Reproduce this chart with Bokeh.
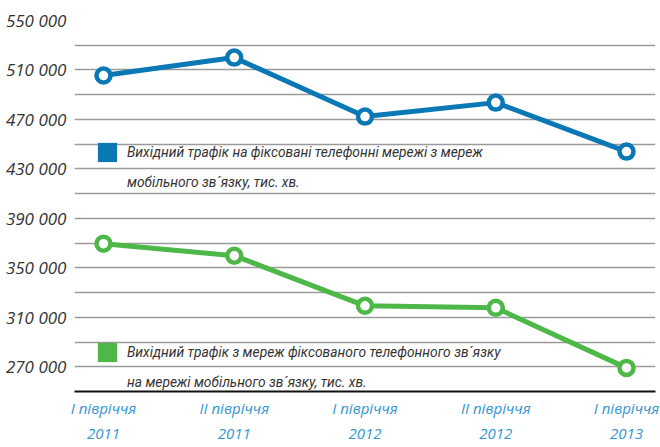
from bokeh.plotting import figure
from bokeh.models import FixedTicker, Legend, LegendItem, ColumnDataSource
from bokeh.embed import file_html
from bokeh.resources import INLINE

# ---- data ----
periods = ["I півріччя\n2011", "II півріччя\n2011", "I півріччя\n2012",
           "II півріччя\n2012", "I півріччя\n2013"]
mobile_to_fixed = [505500, 520000, 472300, 483600, 444000]
fixed_to_mobile = [369500, 359800, 319300, 317700, 269100]
series_a_lines = ["Вихідний трафік на фіксовані телефонні мережі з мереж",
                  "мобільного зв\u00b4язку, тис. хв."]
series_b_lines = ["Вихідний трафік з мереж фіксованого телефонного зв\u00b4язку",
                  "на мережі мобільного зв\u00b4язку, тис. хв."]
y_ticks = [270000, 310000, 350000, 390000, 430000, 470000, 510000, 550000]
y_tick_labels = ["270 000", "310 000", "350 000", "390 000",
                 "430 000", "470 000", "510 000", "550 000"]
grid_values = [270000, 290000, 310000, 330000, 350000, 370000, 390000, 410000,
               430000, 450000, 470000, 490000, 510000, 530000, 550000]

BLUE = "#0a78b5"
GREEN = "#4db848"
LABEL_BLUE = "#3496d2"
TEXT = "#333333"
FONT = "Open Sans"
LEG_FONT = "Roboto"

xs = list(range(len(periods)))

p = figure(width=660, height=447, output_backend="svg", toolbar_location=None,
           x_range=(-0.2218, 4.2218), y_range=(250000, 550000),
           min_border_left=74, min_border_right=5, min_border_top=20,
           min_border_bottom=56)
p.outline_line_color = None
p.background_fill_color = "white"
p.border_fill_color = "white"

# grid
p.xgrid.grid_line_color = None
p.ygrid.ticker = FixedTicker(ticks=grid_values)
p.ygrid.grid_line_color = "#9a9a9a"
p.ygrid.grid_line_width = 1.3

# y axis
p.yaxis.ticker = FixedTicker(ticks=y_ticks)
p.yaxis.major_label_overrides = dict(zip(y_ticks, y_tick_labels))
p.yaxis.axis_line_color = None
p.yaxis.major_tick_line_color = None
p.yaxis.minor_tick_line_color = None
p.yaxis.major_tick_out = 0
p.yaxis.major_tick_in = 0
p.yaxis.major_label_standoff = 8
p.yaxis.major_label_text_font = FONT
p.yaxis.major_label_text_font_style = "italic"
p.yaxis.major_label_text_font_size = "17px"
p.yaxis.major_label_text_color = TEXT

# x axis
p.xaxis.ticker = FixedTicker(ticks=xs)
p.xaxis.major_label_overrides = dict(zip(xs, periods))
p.xaxis.axis_line_color = "#111111"
p.xaxis.axis_line_width = 2
p.xaxis.major_tick_line_color = None
p.xaxis.minor_tick_line_color = None
p.xaxis.major_tick_out = 0
p.xaxis.major_tick_in = 0
p.xaxis.major_label_standoff = 6
p.xaxis.major_label_text_font = FONT
p.xaxis.major_label_text_font_style = "italic"
p.xaxis.major_label_text_font_size = "15px"
p.xaxis.major_label_text_color = LABEL_BLUE
p.xaxis.major_label_text_line_height = 1.28

src = ColumnDataSource(dict(x=xs, a=mobile_to_fixed, b=fixed_to_mobile))

for col, color in (("a", BLUE), ("b", GREEN)):
    p.line("x", col, source=src, line_color=color, line_width=5)
    p.scatter("x", col, source=src, size=14, fill_color="white",
              line_color=color, line_width=4.5)

# legend swatches (renderers with no drawable data, used only for legend glyphs)
nan = float("nan")
def swatch(color, alpha=1.0):
    s = ColumnDataSource(dict(l=[nan], r=[nan], t=[nan], b=[nan]))
    return p.quad(left="l", right="r", top="t", bottom="b", source=s,
                  fill_color=color, fill_alpha=alpha, line_color=None)

sw_blue = swatch(BLUE)
sw_green = swatch(GREEN)
sw_none = swatch("white", 0.0)

for rend, lines, loc in ((sw_blue, series_a_lines, (21, 197)),
                         (sw_green, series_b_lines, (21, -3))):
    items = [LegendItem(label=lines[0], renderers=[rend]),
             LegendItem(label=lines[1], renderers=[sw_none])]
    lg = Legend(items=items, location=loc)
    lg.border_line_color = None
    lg.background_fill_alpha = 0
    lg.padding = 0
    lg.margin = 0
    lg.spacing = 6
    lg.glyph_width = 24
    lg.glyph_height = 24
    lg.label_standoff = 8
    lg.label_height = 24
    lg.label_text_font = LEG_FONT
    lg.label_text_font_style = "italic"
    lg.label_text_font_size = "13.8px"
    lg.label_text_color = TEXT
    lg.inactive_fill_alpha = 0
    p.add_layout(lg)

open("out.html", "w").write(file_html(p, INLINE))
